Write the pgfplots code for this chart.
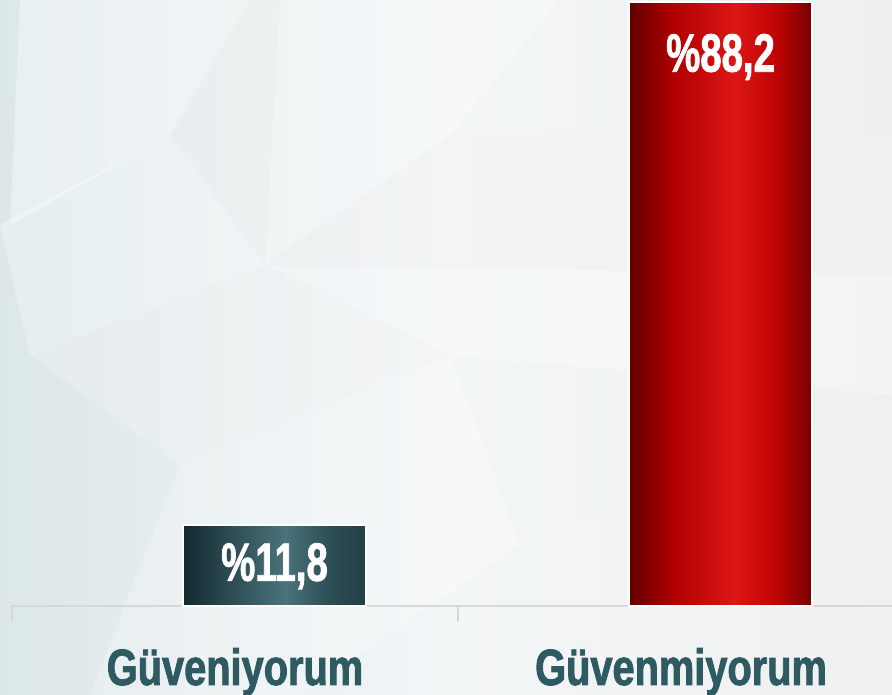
\documentclass[border=0pt]{standalone}
\usepackage{pgfplots}
\pgfplotsset{compat=1.18}
\usepackage{fontspec}
\setmainfont{Liberation Sans}
\newfontfamily\labfont{Liberation Sans}[FakeStretch=0.78, BoldFeatures={FakeBold=1.6}]
\newfontfamily\valfont{Liberation Sans}[FakeStretch=0.71, BoldFeatures={FakeBold=1.4}]

\definecolor{labcol}{HTML}{2E5A62}
\definecolor{axcol}{HTML}{D6D9DA}
\definecolor{tA}{HTML}{142A2F}
\definecolor{tB}{HTML}{2A4A51}
\definecolor{tC}{HTML}{4B737B}
\definecolor{tD}{HTML}{2C4E55}
\definecolor{tE}{HTML}{223F45}
\definecolor{rA}{HTML}{600000}
\definecolor{rB}{HTML}{B00000}
\definecolor{rC}{HTML}{DE1616}
\definecolor{rD}{HTML}{C00404}
\definecolor{rE}{HTML}{780000}
\definecolor{bgL}{HTML}{DCE7EA}
\definecolor{bgM}{HTML}{F3F6F7}
\definecolor{bgR}{HTML}{EEEFF0}

\pgfdeclarehorizontalshading{tealbar}{100bp}{color(0bp)=(tA); color(25bp)=(tA); color(37bp)=(tB); color(53bp)=(tC); color(65bp)=(tD); color(75bp)=(tE); color(100bp)=(tE)}
\pgfdeclarehorizontalshading{redbar}{100bp}{color(0bp)=(rA); color(25bp)=(rA); color(37bp)=(rB); color(54bp)=(rC); color(65bp)=(rD); color(75bp)=(rE); color(100bp)=(rE)}

\begin{document}
\begin{tikzpicture}[x=1pt,y=1pt]
\useasboundingbox (0,0) rectangle (892,695);
% background
\shade[left color=bgL, right color=bgR, middle color=bgM] (0,0) rectangle (892,695);
\begin{scope}
\clip (0,0) rectangle (892,695);
\fill[white, opacity=0.35] (20,695) -- (250,695) -- (170,560) -- (10,470) -- cycle;
\fill[black!6, opacity=0.35] (250,695) -- (280,695) -- (265,430) -- (170,560) -- cycle;
\fill[white, opacity=0.30] (280,695) -- (560,695) -- (450,560) -- (265,430) -- cycle;
\fill[black!5, opacity=0.35] (450,560) -- (892,560) -- (892,420) -- (265,430) -- cycle;
\fill[white, opacity=0.30] (0,470) -- (170,560) -- (265,430) -- (30,340) -- cycle;
\fill[black!4, opacity=0.35] (30,340) -- (265,430) -- (450,340) -- (180,230) -- cycle;
\fill[white, opacity=0.30] (265,430) -- (892,420) -- (892,300) -- (450,340) -- cycle;
\fill[white, opacity=0.25] (180,230) -- (450,340) -- (520,150) -- (300,0) -- (90,0) -- cycle;
\fill[black!4, opacity=0.30] (520,150) -- (892,300) -- (892,0) -- (620,0) -- cycle;
\end{scope}
\begin{axis}[
  at={(12pt,89pt)}, anchor=south west,
  scale only axis, width=880pt, height=604pt,
  xmin=-0.5, xmax=1.473, ymin=0, ymax=88.2,
  clip=false,
  axis y line=none,
  axis x line*=bottom,
  x axis line style={draw=axcol, line width=2pt, -},
  xtick={0,1},
  xticklabels={Güveniyorum,Güvenmiyorum},
  major tick length=0pt,
  xticklabel style={font=\labfont\bfseries\fontsize{51}{52}\selectfont, text=labcol, anchor=base, yshift=-79pt},
  extra x ticks={-0.5,0.5},
  extra x tick labels={},
  extra x tick style={major tick length=16pt, tick align=outside, tick style={draw=axcol, line width=1.2pt}},
  ybar, bar width=0.41, bar shift=0.0886,
  nodes near coords={\%\pgfmathprintnumber[fixed,precision=1,fixed zerofill,use comma,assume math mode=true]{\pgfplotspointmeta}},
  nodes near coords style={font=\valfont\bfseries\fontsize{54}{54}\selectfont, text=white, anchor=center},
]
\addplot[shade, shading=tealbar, draw=white, line width=1.5pt,
  every node near coord/.append style={yshift=-41pt}] coordinates {(0,11.8)};
\addplot[shade, shading=redbar, draw=white, line width=1.5pt,
  every node near coord/.append style={yshift=-55pt}] coordinates {(1,88.2)};
\end{axis}
\end{tikzpicture}
\end{document}
